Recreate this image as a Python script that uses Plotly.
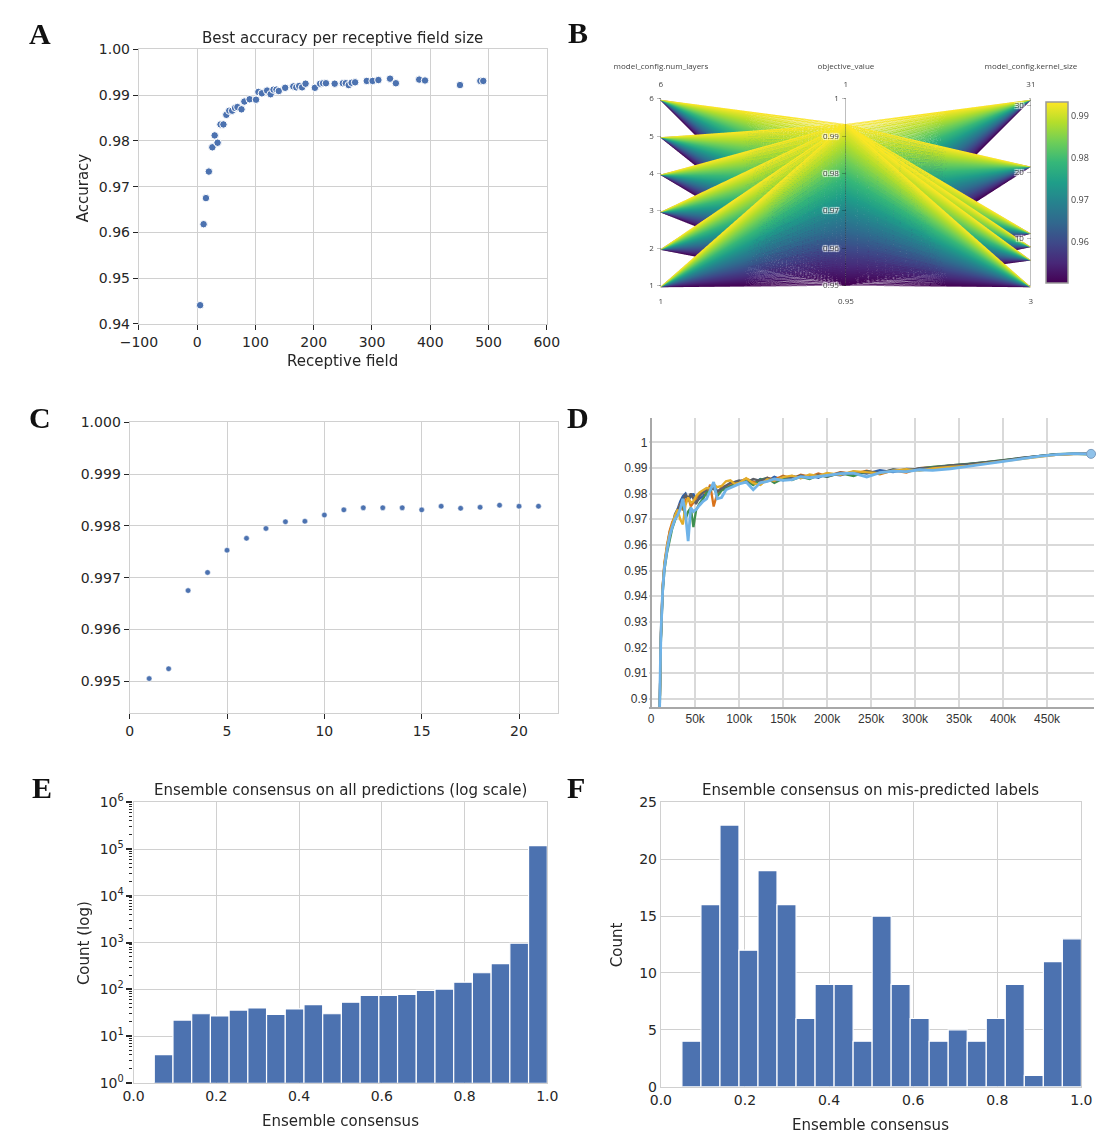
import plotly.graph_objects as go

W, H = 1107, 1141


def px(x):
    return x / W


def py(y):
    return 1 - y / H


FONT = "DejaVu Sans"
TXT = "#262626"
BLUE = "#4c72b0"
GRID = "#d0d0d0"

# ---------------- Panel A : best accuracy per receptive field ----------------
A_RF = [5, 11, 15, 20, 26, 30, 35, 40, 45, 50, 55, 60, 65, 69, 76, 81, 90, 101, 105, 111,
        120, 126, 131, 136, 140, 151, 165, 170, 175, 180, 186, 202, 211, 216, 221, 236, 250,
        255, 260, 265, 271, 291, 301, 311, 331, 341, 381, 391, 451, 486, 491]
A_ACC = [0.9441, 0.9618, 0.9675, 0.9733, 0.9786, 0.9812, 0.9796, 0.9836, 0.9836, 0.9857,
         0.9866, 0.9866, 0.9872, 0.9874, 0.9869, 0.9886, 0.9891, 0.9890, 0.9907, 0.9904,
         0.9910, 0.9902, 0.9912, 0.9912, 0.9909, 0.9916, 0.9919, 0.9917, 0.9920, 0.9917,
         0.9925, 0.9916, 0.9925, 0.9926, 0.9926, 0.9925, 0.9926, 0.9926, 0.9922, 0.9927,
         0.9928, 0.9931, 0.9931, 0.9933, 0.9936, 0.9926, 0.9934, 0.9932, 0.9922, 0.9931,
         0.9931]

# ---------------- Panel B : parallel coordinates of the sweep ----------------
# (num_layers, kernel_size) configurations of the sweep
B_CONFIGS = [(1, 3), (2, 7), (3, 9), (4, 11), (5, 21), (6, 31)]
B_OBJECTIVE = [
    0.9504, 0.9507, 0.9509,
    0.9512, 0.9514, 0.9517, 0.9519, 0.9522, 0.9525, 0.9527, 0.9529,
    0.9532, 0.9534, 0.9537, 0.9539, 0.9541, 0.9544, 0.9546, 0.9549,
    0.9551, 0.9554, 0.9556, 0.9559, 0.9561, 0.9563, 0.9566, 0.9568,
    0.9571, 0.9573, 0.9576, 0.9579, 0.9581, 0.9584, 0.9586, 0.9588,
    0.9591, 0.9593, 0.9596, 0.9598, 0.9601, 0.9603, 0.9606, 0.9608,
    0.9611, 0.9614, 0.9616, 0.9619, 0.9621, 0.9623, 0.9626, 0.9628,
    0.9631, 0.9633, 0.9636, 0.9638, 0.9641, 0.9644, 0.9646, 0.9649,
    0.9651, 0.9653, 0.9656, 0.9658, 0.9661, 0.9664, 0.9666, 0.9669,
    0.9671, 0.9673, 0.9676, 0.9678, 0.9681, 0.9683, 0.9686, 0.9689,
    0.9691, 0.9693, 0.9696, 0.9698, 0.9701, 0.9704, 0.9706, 0.9708,
    0.9711, 0.9713, 0.9716, 0.9718, 0.9721, 0.9724, 0.9726, 0.9729,
    0.9731, 0.9733, 0.9736, 0.9738, 0.9741, 0.9743, 0.9746, 0.9749,
    0.9751, 0.9754, 0.9756, 0.9758, 0.9761, 0.9763, 0.9766, 0.9768,
    0.9771, 0.9774, 0.9776, 0.9779, 0.9781, 0.9783, 0.9786, 0.9788,
    0.9791, 0.9793, 0.9796, 0.9799, 0.9801, 0.9803, 0.9806, 0.9808,
    0.9811, 0.9814, 0.9816, 0.9818, 0.9821, 0.9823, 0.9826, 0.9829,
    0.9831, 0.9833, 0.9836, 0.9838, 0.9841, 0.9844, 0.9846, 0.9848,
    0.9851, 0.9853, 0.9856, 0.9859, 0.9861, 0.9863, 0.9866, 0.9868,
    0.9871, 0.9873, 0.9876, 0.9879, 0.9881, 0.9883, 0.9886, 0.9888,
    0.9891, 0.9894, 0.9896, 0.9898, 0.9901, 0.9903, 0.9906, 0.9909,
    0.9911, 0.9913, 0.9916, 0.9918, 0.9921, 0.9924, 0.9926, 0.9928,
    0.9931, 0.9933, 0.9935]
B_CBAR_TICKS = [0.96, 0.97, 0.98, 0.99]

# ---------------- Panel C : ensemble accuracy vs number of models ----------------
C_N = list(range(1, 22))
C_ACC = [0.99505, 0.99524, 0.99675, 0.99710, 0.99753, 0.99776, 0.99795, 0.99808, 0.99809,
         0.99821, 0.99831, 0.99835, 0.99835, 0.99835, 0.99831, 0.99838, 0.99834, 0.99836,
         0.99840, 0.99838, 0.99838]

# ---------------- Panel D : training curves ----------------
D_STEPS_K = [9, 11, 13, 15, 18, 21, 24, 27, 30, 33, 36, 39, 42, 45, 48, 51, 55, 59, 63, 67,
             71, 75, 80, 85, 90, 95, 100, 108, 116, 124, 132, 140, 150, 160, 170, 180, 190,
             200, 215, 230, 245, 260, 275, 290, 305, 320, 340, 360, 380, 400, 420, 440, 460,
             480, 500]
D_DARKBLUE = [0.883, 0.924, 0.943, 0.952, 0.959, 0.965, 0.968, 0.972, 0.974, 0.977, 0.979,
              0.980, 0.9775, 0.979, 0.980, 0.977, 0.978, 0.979, 0.981, 0.982, 0.983, 0.981,
              0.9815, 0.9825, 0.983, 0.9845,
              0.9848, 0.9856, 0.9838, 0.9857, 0.9849, 0.9866, 0.9852, 0.9869, 0.9861, 0.9872,
              0.9862, 0.9878, 0.9871, 0.9886, 0.9878, 0.9891, 0.9884, 0.9896, 0.9894,
              0.9902, 0.9908, 0.9914, 0.9921, 0.9929, 0.9938, 0.9946, 0.9953, 0.9956, 0.9957]
D_ORANGE = [0.882, 0.926, 0.944, 0.953, 0.960, 0.9655, 0.969, 0.9705, 0.973, 0.976, 0.9735,
            0.9775, 0.979, 0.975, 0.9765, 0.978, 0.980, 0.981, 0.9795, 0.9835, 0.975, 0.980,
            0.9825, 0.983, 0.9838, 0.984,
            0.9845, 0.9858, 0.9846, 0.9835, 0.9862, 0.9855, 0.9870, 0.9858, 0.9874, 0.9866,
            0.9879, 0.9868, 0.9884, 0.9877, 0.9889, 0.9875, 0.9891, 0.9882, 0.9899,
            0.9903, 0.9906, 0.9913, 0.9919, 0.9928, 0.9937, 0.9945, 0.9951, 0.9955, 0.9956]
D_GREEN = [0.880, 0.922, 0.941, 0.950, 0.957, 0.9625, 0.9665, 0.9695, 0.9725, 0.975, 0.976,
           0.970, 0.973, 0.9745, 0.967, 0.9735, 0.9762, 0.978, 0.9805, 0.981, 0.9828, 0.979,
           0.9812, 0.982, 0.983, 0.9836,
           0.9843, 0.9851, 0.9833, 0.9855, 0.9860, 0.9842, 0.9859, 0.9853, 0.9866, 0.9857,
           0.9872, 0.9866, 0.9880, 0.9869, 0.9887, 0.9879, 0.9893, 0.9886, 0.9897,
           0.9904, 0.9909, 0.9916, 0.9923, 0.9931, 0.9940, 0.9948, 0.9954, 0.9956, 0.9952]
D_GREY = [0.884, 0.9235, 0.9425, 0.9515, 0.9585, 0.964, 0.9675, 0.971, 0.9735, 0.9755,
          0.9775, 0.9795, 0.978, 0.980, 0.978, 0.976, 0.979, 0.9805, 0.9815, 0.9825, 0.9818,
          0.9808, 0.982, 0.9832, 0.9842, 0.9846,
          0.9851, 0.9843, 0.9857, 0.9850, 0.9862, 0.9848, 0.9866, 0.9859, 0.9871, 0.9863,
          0.9874, 0.9867, 0.9882, 0.9877, 0.9887, 0.9881, 0.9894, 0.9889, 0.9899,
          0.9901, 0.991, 0.9915, 0.9922, 0.993, 0.9939, 0.9947, 0.9953, 0.9955, 0.9956]
D_GOLD = [0.881, 0.9245, 0.9435, 0.9525, 0.9595, 0.9645, 0.968, 0.9715, 0.9738, 0.970,
          0.968, 0.9755, 0.9785, 0.9765, 0.977, 0.979, 0.9805, 0.9812, 0.9822, 0.982,
          0.9838, 0.9825, 0.983, 0.9848, 0.9852, 0.9838,
          0.9842, 0.9860, 0.9841, 0.9834, 0.9856, 0.9850, 0.9864, 0.9870, 0.9860, 0.9875,
          0.9868, 0.9881, 0.9873, 0.9888, 0.9883, 0.9879, 0.9890, 0.9895, 0.9890,
          0.9898, 0.9904, 0.9908, 0.9918, 0.9926, 0.9936, 0.9944, 0.9951, 0.9954, 0.9955]
D_LIGHTBLUE = [0.885, 0.925, 0.942, 0.951, 0.958, 0.9635, 0.967, 0.970, 0.9715, 0.974, 0.978,
               0.972, 0.9615, 0.9745, 0.973, 0.9738, 0.9755, 0.977, 0.978, 0.981, 0.9845,
               0.978, 0.9785, 0.9815, 0.9822, 0.983, 0.9838, 0.9845, 0.9815, 0.9842, 0.9848,
               0.9857, 0.9852, 0.9855, 0.9866, 0.9862, 0.9866, 0.987, 0.9878, 0.988, 0.9865,
               0.9882, 0.9888, 0.9886, 0.9893, 0.9891, 0.9897, 0.9906, 0.9916, 0.9926, 0.9935,
               0.9945, 0.9952, 0.9956, 0.9955]
D_XTICKS_K = [0, 50, 100, 150, 200, 250, 300, 350, 400, 450]
D_XTICK_LABELS = ["0", "50k", "100k", "150k", "200k", "250k", "300k", "350k", "400k", "450k"]

# ---------------- Panel E / F : ensemble consensus histograms ----------------
BIN_LO, BIN_HI, N_BINS = 0.05, 1.0, 21
E_COUNTS = [4, 22, 30, 27, 36, 40, 29, 38, 47, 30, 53, 74, 74, 78, 95, 101, 142, 226, 355,
            967, 118500]
F_COUNTS = [4, 16, 23, 12, 19, 16, 6, 9, 9, 4, 15, 9, 6, 4, 5, 4, 6, 9, 1, 11, 13]

bin_w = (BIN_HI - BIN_LO) / N_BINS
bin_centers = [BIN_LO + (i + 0.5) * bin_w for i in range(N_BINS)]

fig = go.Figure()

# A
fig.add_trace(go.Scatter(x=A_RF, y=A_ACC, mode="markers", xaxis="x", yaxis="y",
                         marker=dict(color=BLUE, size=7.5, line=dict(color="white", width=1))))

# B  (trials ordered by objective so the best runs are drawn on top)
rows = [(L, K, v) for v in B_OBJECTIVE for (L, K) in B_CONFIGS]
b_layers = [r[0] for r in rows]
b_kernels = [r[1] for r in rows]
b_obj = [r[2] for r in rows]
small = dict(size=8, color="#444", family="Open Sans")
fig.add_trace(go.Parcoords(
    domain=dict(x=[px(661), px(1043)], y=[py(283), py(88)]),
    line=dict(color=b_obj, colorscale="Viridis", cmin=min(B_OBJECTIVE), cmax=max(B_OBJECTIVE),
              showscale=True,
              colorbar=dict(x=px(1058), xanchor="left", y=py(185), yanchor="middle",
                            len=184 / H, lenmode="fraction", thickness=22,
                            thicknessmode="pixels", outlinecolor="#999999", outlinewidth=1.5,
                            tickvals=B_CBAR_TICKS, ticktext=["0.96", "0.97", "0.98", "0.99"],
                            ticks="", tickfont=dict(size=9, color="#444", family="Open Sans"),
                            xpad=0, ypad=0)),
    dimensions=[
        dict(label="model_config.num_layers", values=b_layers, range=[1, 6]),
        dict(label="objective_value", values=b_obj, range=[0.95, 1.0]),
        dict(label="model_config.kernel_size", values=b_kernels, range=[3, 31]),
    ],
    labelfont=small, tickfont=small, rangefont=small,
))

# C
fig.add_trace(go.Scatter(x=C_N, y=C_ACC, mode="markers", xaxis="x2", yaxis="y2",
                         marker=dict(color=BLUE, size=5.5, line=dict(color="white", width=0.5))))

# D
d_steps = [s * 1000 for s in D_STEPS_K]
d_series = [(D_DARKBLUE, "#2f5fa7", 2.3), (D_ORANGE, "#d9731c", 2.3), (D_GREEN, "#3f8f4f", 2.3),
            (D_GREY, "#5a5f66", 2.3), (D_GOLD, "#e3ad2a", 2.3), (D_LIGHTBLUE, "#6fb3e8", 2.8)]
for vals, col, wdt in d_series:
    fig.add_trace(go.Scatter(x=d_steps, y=vals, mode="lines", xaxis="x3", yaxis="y3",
                             line=dict(color=col, width=wdt), cliponaxis=True))
fig.add_trace(go.Scatter(x=[d_steps[-1]], y=[D_LIGHTBLUE[-1]], mode="markers", xaxis="x3",
                         yaxis="y3", marker=dict(color="#8fc2ea", size=9,
                                                 line=dict(color="#7a9cc0", width=1)),
                         cliponaxis=False))

# E
fig.add_trace(go.Bar(x=bin_centers, y=E_COUNTS, width=bin_w, xaxis="x4", yaxis="y4",
                     marker=dict(color=BLUE, line=dict(color="white", width=1.2))))
# F
fig.add_trace(go.Bar(x=bin_centers, y=F_COUNTS, width=bin_w, xaxis="x5", yaxis="y5",
                     marker=dict(color=BLUE, line=dict(color="white", width=1.2))))

tickfont = dict(family=FONT, size=14, color=TXT)
sb_common = dict(showgrid=True, gridcolor=GRID, gridwidth=1, showline=True, linecolor=GRID,
                 linewidth=1.2, mirror=True, zeroline=False, tickfont=tickfont)
with_ticks = dict(ticks="outside", ticklen=5, tickwidth=1.2, tickcolor=TXT)

minor_vals = [m * 10 ** k for k in range(6) for m in range(2, 10)]

fig.update_layout(
    width=W, height=H, margin=dict(l=0, r=0, t=0, b=0),
    paper_bgcolor="white", plot_bgcolor="white", showlegend=False,
    font=dict(family=FONT, color=TXT),
    xaxis=dict(domain=[px(123.5), px(543.5)], range=[-100, 600], dtick=100, anchor="y",
               **sb_common, **with_ticks),
    yaxis=dict(domain=[py(319), py(40)], range=[0.94, 1.0], dtick=0.01, tickformat=".2f",
               anchor="x", **sb_common, **with_ticks),
    xaxis2=dict(domain=[px(114), px(555)], range=[0, 22], dtick=5, anchor="y2",
                **sb_common, **with_ticks),
    yaxis2=dict(domain=[py(714), py(419)], range=[0.99439, 1.0], dtick=0.001,
                tickformat=".3f", anchor="x2", **sb_common, **with_ticks),
    xaxis3=dict(domain=[px(648.3), px(1106.5)], range=[-3000, 502800],
                tickvals=[k * 1000 for k in D_XTICKS_K], ticktext=D_XTICK_LABELS,
                anchor="y3", showgrid=True, gridcolor="#d9d9d9", gridwidth=1.5,
                showline=True, linecolor="#a8a8a8", linewidth=1.5, mirror=False,
                zeroline=True, zerolinecolor="#a8a8a8", zerolinewidth=1.5, ticks="",
                tickfont=dict(family="Liberation Sans", size=12, color="#333")),
    yaxis3=dict(domain=[py(708.3), py(415)], range=[0.8968, 1.0093], tick0=0.9, dtick=0.01,
                anchor="x3", showgrid=True, gridcolor="#d9d9d9", gridwidth=1.5,
                showline=False, zeroline=False, ticks="",
                tickfont=dict(family="Liberation Sans", size=12, color="#333")),
    xaxis4=dict(domain=[px(118), px(544)], range=[0, 1], dtick=0.2, tickformat=".1f",
                anchor="y4", **sb_common),
    yaxis4=dict(domain=[py(1090), py(805)], type="log", range=[0, 6],
                tickvals=[1, 10, 100, 1000, 10000, 100000, 1000000],
                ticktext=["10<sup>0</sup>", "10<sup>1</sup>", "10<sup>2</sup>",
                          "10<sup>3</sup>", "10<sup>4</sup>", "10<sup>5</sup>",
                          "10<sup>6</sup>"],
                anchor="x4", ticks="outside", ticklen=6, tickwidth=1.5, tickcolor=TXT,
                minor=dict(tickvals=minor_vals, ticks="outside", ticklen=3, tickwidth=1,
                           tickcolor=TXT, showgrid=False),
                **sb_common),
    xaxis5=dict(domain=[px(661), px(1094)], range=[0, 1], dtick=0.2, tickformat=".1f",
                anchor="y5", **sb_common),
    yaxis5=dict(domain=[py(1094), py(805)], range=[0, 25], dtick=5, anchor="x5",
                **sb_common),
)

ann = []


def text(x, y, s, size=15, angle=0, family=FONT, color=TXT, bold=False):
    ann.append(dict(x=px(x), y=py(y), xref="paper", yref="paper",
                    text=(f"<b>{s}</b>" if bold else s),
                    showarrow=False, xanchor="center", yanchor="middle", textangle=angle,
                    font=dict(family=family, size=size, color=color)))


text(333, 28, "Best accuracy per receptive field size")
text(333, 357, "Receptive field")
text(66, 181, "Accuracy", angle=-90)
text(331, 793, "Ensemble consensus on all predictions (log scale)")
text(331, 1129, "Ensemble consensus")
text(67, 948, "Count (log)", angle=-90)
text(877, 793, "Ensemble consensus on mis-predicted labels")
text(877, 1133, "Ensemble consensus")
text(616, 950, "Count", angle=-90)

for lab, x, y in [("A", 22, 24), ("B", 576, 23), ("C", 22, 414), ("D", 576, 414),
                  ("E", 24, 790), ("F", 574, 790)]:
    text(x, y, lab, size=30, family="Liberation Serif", color="#111", bold=True)

fig.update_layout(annotations=ann)
fig.write_html("out.html")
